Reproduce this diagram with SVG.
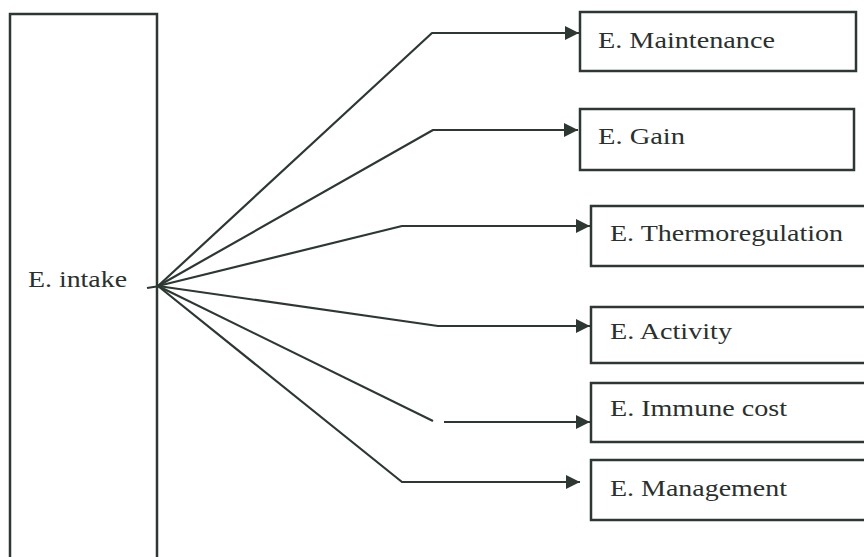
<svg xmlns="http://www.w3.org/2000/svg" width="864" height="557" viewBox="0 0 864 557">
<style>
.box{fill:#fff;stroke:#2e3833;stroke-width:2.5}
.ln{fill:none;stroke:#2e3833;stroke-width:2.2;stroke-linejoin:round}
text{font-family:"Liberation Serif","Times New Roman",serif;font-size:24px;fill:#2a302d}
</style>
<defs>
<marker id="ah" viewBox="0 0 10 10" refX="10" refY="5" markerWidth="6.5" markerHeight="6.5" markerUnits="strokeWidth" orient="auto">
<path d="M0,0 L10,5 L0,10 z" fill="#2e3833"/>
</marker>
</defs>
<rect width="864" height="557" fill="#fff"/>
<g id="intake">
<path class="box" d="M10,562 V14 H157 V562"/>
<text x="28" y="287" textLength="99" lengthAdjust="spacingAndGlyphs">E. intake</text>
</g>
<g id="maintenance">
<rect class="box" x="580" y="12" width="276" height="59"/>
<text x="598" y="48" textLength="177" lengthAdjust="spacingAndGlyphs">E. Maintenance</text>
</g>
<g id="gain">
<rect class="box" x="580" y="109" width="274" height="61"/>
<text x="598" y="144" textLength="87" lengthAdjust="spacingAndGlyphs">E. Gain</text>
</g>
<g id="thermoregulation">
<rect class="box" x="591" y="206" width="290" height="60"/>
<text x="610" y="241" textLength="233" lengthAdjust="spacingAndGlyphs">E. Thermoregulation</text>
</g>
<g id="activity">
<rect class="box" x="591" y="307" width="290" height="56"/>
<text x="610" y="339" textLength="122" lengthAdjust="spacingAndGlyphs">E. Activity</text>
</g>
<g id="immune">
<rect class="box" x="591" y="383" width="290" height="59"/>
<text x="610" y="416" textLength="177" lengthAdjust="spacingAndGlyphs">E. Immune cost</text>
</g>
<g id="management">
<rect class="box" x="591" y="460" width="290" height="60"/>
<text x="610" y="496" textLength="177" lengthAdjust="spacingAndGlyphs">E. Management</text>
</g>
<g id="connectors">
<path class="ln" d="M147,288 L160,286"/>
<path class="ln" marker-end="url(#ah)" d="M158,286 L432,33 L579,33"/>
<path class="ln" marker-end="url(#ah)" d="M158,286 L433,130 L578,130"/>
<path class="ln" marker-end="url(#ah)" d="M158,286 L402,226 L590,226"/>
<path class="ln" marker-end="url(#ah)" d="M158,286 L438,326 L590,326"/>
<path class="ln" d="M158,286 L433,421"/>
<path class="ln" marker-end="url(#ah)" d="M444,422 L590,422"/>
<path class="ln" marker-end="url(#ah)" d="M158,286 L402,482 L580,482"/>
</g>
</svg>
